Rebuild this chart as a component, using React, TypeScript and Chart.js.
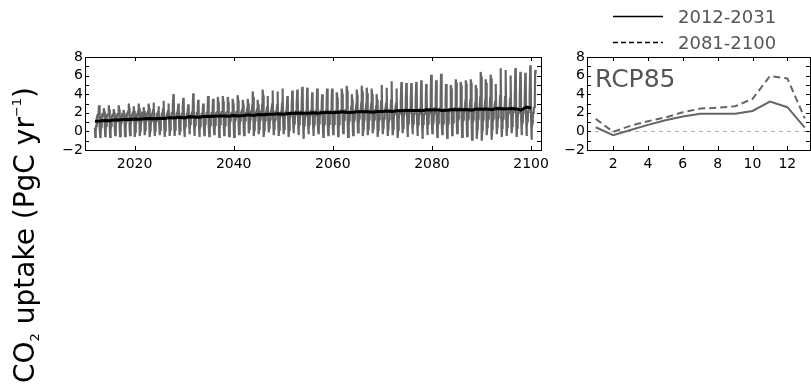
import React, { useEffect, useRef } from "react";
import { Chart, registerables } from "chart.js";

Chart.register(...registerables);

// ---------------- data ----------------
const FIRST_YEAR = 2012;
const LAST_YEAR = 2100;
const years: number[] = Array.from({ length: LAST_YEAR - FIRST_YEAR + 1 }, (_, i) => FIRST_YEAR + i);

// monthly CO2 uptake per year (PgC/yr), one array per calendar month, 2012..2100
const janVals = [
  0.4, 0.3, 0.5, 0.3, 0.5, 0.3, 0.6, 0.4, 0.5, 0.4,
  0.5, 0.6, 0.4, 0.6, 0.5, 0.8, 0.5, 0.7, 0.4, 0.8,
  0.6, 0.5, 0.7, 0.6, 0.7, 0.8, 0.7, 0.6, 0.8, 0.6,
  0.7, 0.9, 0.6, 0.9, 0.7, 0.9, 0.8, 0.9, 0.7, 0.9,
  0.9, 1.0, 0.9, 0.8, 0.9, 0.8, 0.9, 1.0, 0.8, 0.9,
  1.0, 0.8, 0.9, 1.0, 1.0, 0.9, 0.8, 1.0, 1.0, 1.1,
  0.9, 1.1, 1.0, 1.1, 1.0, 1.1, 1.0, 1.3, 1.1, 1.3,
  1.0, 1.0, 1.2, 1.1, 1.1, 1.2, 1.0, 1.3, 1.1, 1.3,
  1.0, 1.4, 1.3, 1.2, 1.4, 1.3, 1.3, 1.5, 1.4,
];
const febVals = [
  -0.6, -0.6, -0.5, -0.6, -0.4, -0.5, -0.5, -0.4, -0.6, -0.5,
  -0.4, -0.6, -0.5, -0.4, -0.6, -0.5, -0.5, -0.4, -0.6, -0.3,
  -0.5, -0.6, -0.4, -0.5, -0.3, -0.6, -0.4, -0.5, -0.6, -0.3,
  -0.4, -0.2, -0.5, -0.3, -0.6, -0.1, -0.4, -0.5, -0.3, -0.6,
  -0.2, -0.4, -0.8, -0.3, -0.5, -0.2, -0.6, -0.4, -0.3, -0.5,
  -0.2, -0.6, -0.4, -0.1, -0.5, -0.4, -0.2, -0.6, -0.3, -0.5,
  -0.4, -0.7, -0.2, -0.6, -0.3, -0.5, -0.8, -0.4, -0.2, -0.6,
  -0.3, -0.7, -0.4, -0.2, -0.6, -0.5, -0.9, -0.8, -1.0, -0.4,
  -0.9, -0.3, -0.6, -0.5, -0.2, -0.6, -0.4, -0.5, -0.9,
];
const marVals = [
  0.1, 0.0, 0.2, 0.1, 0.2, 0.1, 0.1, 0.2, 0.0, 0.1,
  0.2, 0.1, 0.1, 0.2, 0.1, 0.2, 0.2, 0.1, 0.1, 0.3,
  0.2, 0.1, 0.3, 0.2, 0.3, 0.2, 0.2, 0.3, 0.2, 0.3,
  0.3, 0.3, 0.2, 0.3, 0.2, 0.4, 0.3, 0.2, 0.3, 0.2,
  0.4, 0.3, 0.1, 0.3, 0.2, 0.4, 0.2, 0.3, 0.3, 0.3,
  0.4, 0.2, 0.3, 0.4, 0.3, 0.3, 0.4, 0.2, 0.4, 0.3,
  0.3, 0.2, 0.4, 0.3, 0.4, 0.3, 0.2, 0.4, 0.5, 0.3,
  0.4, 0.3, 0.5, 0.5, 0.3, 0.4, 0.2, 0.3, 0.2, 0.5,
  0.3, 0.5, 0.4, 0.5, 0.6, 0.4, 0.5, 0.5, 0.3,
];
const aprVals = [
  0.6, 0.5, 0.6, 0.6, 0.7, 0.5, 0.6, 0.7, 0.6, 0.6,
  0.7, 0.6, 0.6, 0.7, 0.6, 0.7, 0.7, 0.6, 0.6, 0.8,
  0.7, 0.6, 0.8, 0.7, 0.7, 0.8, 0.7, 0.7, 0.8, 0.7,
  0.8, 0.8, 0.7, 0.8, 0.7, 0.9, 0.8, 0.7, 0.8, 0.8,
  0.9, 0.8, 0.7, 0.8, 0.8, 0.9, 0.8, 0.8, 0.8, 0.8,
  0.9, 0.7, 0.8, 0.9, 0.8, 0.8, 0.9, 0.8, 0.9, 0.8,
  0.8, 0.8, 0.9, 0.9, 0.9, 0.8, 0.8, 0.9, 1.0, 0.9,
  0.9, 0.9, 1.0, 1.0, 0.9, 1.0, 0.8, 0.9, 0.8, 1.0,
  0.9, 1.0, 1.0, 1.0, 1.1, 1.0, 1.0, 1.1, 0.9,
];
const mayVals = [
  1.0, 1.0, 1.1, 1.1, 1.1, 1.0, 1.1, 1.2, 1.1, 1.1,
  1.2, 1.1, 1.1, 1.2, 1.1, 1.2, 1.2, 1.1, 1.1, 1.2,
  1.2, 1.1, 1.2, 1.2, 1.2, 1.2, 1.2, 1.2, 1.3, 1.2,
  1.2, 1.3, 1.2, 1.3, 1.2, 1.3, 1.3, 1.2, 1.3, 1.2,
  1.3, 1.3, 1.2, 1.3, 1.3, 1.3, 1.2, 1.3, 1.3, 1.3,
  1.3, 1.2, 1.3, 1.4, 1.3, 1.3, 1.3, 1.3, 1.4, 1.3,
  1.3, 1.3, 1.4, 1.3, 1.4, 1.3, 1.3, 1.4, 1.4, 1.4,
  1.4, 1.3, 1.4, 1.4, 1.3, 1.4, 1.3, 1.4, 1.3, 1.4,
  1.4, 1.5, 1.4, 1.4, 1.5, 1.4, 1.4, 1.5, 1.4,
];
const junVals = [
  1.4, 1.5, 1.5, 1.4, 1.5, 1.5, 1.6, 1.5, 1.5, 1.6,
  1.6, 1.5, 1.6, 1.6, 1.5, 1.7, 1.6, 1.6, 1.5, 1.7,
  1.6, 1.6, 1.7, 1.6, 1.7, 1.7, 1.7, 1.6, 1.7, 1.7,
  1.7, 1.8, 1.7, 1.8, 1.7, 1.8, 1.8, 1.7, 1.8, 1.7,
  1.8, 1.8, 1.7, 1.8, 1.8, 1.9, 1.8, 1.8, 1.8, 1.8,
  1.9, 1.8, 1.8, 1.9, 1.8, 1.8, 1.9, 1.8, 1.9, 1.8,
  1.9, 1.9, 1.9, 2.0, 1.9, 1.9, 1.9, 2.0, 2.0, 1.9,
  2.0, 1.9, 2.0, 2.0, 1.9, 2.0, 1.9, 2.0, 1.9, 2.0,
  2.0, 2.1, 2.0, 2.0, 2.1, 2.0, 2.0, 2.1, 2.0,
];
const julVals = [
  1.7, 1.8, 1.8, 1.7, 1.8, 1.8, 1.9, 1.8, 1.8, 1.9,
  1.9, 1.8, 1.9, 1.9, 1.8, 2.0, 1.9, 1.9, 1.8, 2.0,
  1.9, 1.9, 2.0, 1.9, 2.0, 2.0, 2.0, 1.9, 2.0, 2.0,
  2.0, 2.1, 2.0, 2.1, 2.0, 2.1, 2.1, 2.0, 2.1, 2.0,
  2.1, 2.1, 2.0, 2.1, 2.1, 2.2, 2.1, 2.1, 2.1, 2.1,
  2.2, 2.1, 2.1, 2.2, 2.2, 2.1, 2.2, 2.1, 2.2, 2.2,
  2.2, 2.2, 2.3, 2.3, 2.2, 2.3, 2.2, 2.3, 2.4, 2.3,
  2.3, 2.3, 2.4, 2.4, 2.3, 2.4, 2.3, 2.4, 2.3, 2.4,
  2.4, 2.5, 2.4, 2.4, 2.5, 2.4, 2.4, 2.5, 2.4,
];
const augVals = [
  1.8, 1.8, 1.8, 1.8, 1.8, 1.8, 1.9, 1.8, 1.9, 1.9,
  1.9, 1.9, 1.9, 1.9, 1.9, 2.0, 2.0, 1.9, 1.9, 2.0,
  2.0, 1.9, 2.0, 2.0, 2.0, 2.1, 2.0, 2.0, 2.1, 2.0,
  2.1, 2.1, 2.0, 2.1, 2.1, 2.2, 2.1, 2.1, 2.2, 2.1,
  2.2, 2.2, 2.1, 2.2, 2.2, 2.2, 2.2, 2.2, 2.2, 2.2,
  2.3, 2.2, 2.2, 2.3, 2.2, 2.2, 2.3, 2.2, 2.3, 2.3,
  2.3, 2.3, 2.4, 2.4, 2.3, 2.4, 2.3, 2.4, 2.5, 2.4,
  2.4, 2.4, 2.5, 2.5, 2.4, 2.5, 2.4, 2.5, 2.4, 2.5,
  2.5, 2.6, 2.5, 2.5, 2.6, 2.5, 2.5, 2.6, 2.5,
];
const sepVals = [
  1.8, 1.7, 1.8, 1.8, 1.9, 1.7, 1.9, 1.8, 1.9, 1.8,
  1.9, 1.9, 1.8, 2.0, 1.9, 2.1, 1.9, 2.0, 1.8, 2.1,
  2.0, 1.9, 2.1, 2.0, 2.1, 2.1, 2.1, 2.0, 2.1, 2.0,
  2.1, 2.2, 2.0, 2.2, 2.1, 2.2, 2.2, 2.2, 2.1, 2.2,
  2.2, 2.3, 2.2, 2.2, 2.2, 2.2, 2.3, 2.3, 2.2, 2.3,
  2.3, 2.2, 2.3, 2.3, 2.3, 2.3, 2.2, 2.4, 2.3, 2.4,
  2.3, 2.4, 2.4, 2.4, 2.4, 2.5, 2.4, 2.5, 2.5, 2.5,
  2.4, 2.4, 2.5, 2.5, 2.5, 2.5, 2.4, 2.6, 2.5, 2.6,
  2.5, 2.7, 2.6, 2.6, 2.7, 2.6, 2.6, 2.7, 2.6,
];
const octVals = [
  2.1, 1.9, 2.1, 1.9, 2.1, 1.9, 2.2, 2.1, 2.2, 2.0,
  2.2, 2.3, 2.1, 2.4, 2.2, 2.7, 2.2, 2.5, 2.1, 2.8,
  2.4, 2.2, 2.6, 2.5, 2.6, 2.6, 2.6, 2.5, 2.7, 2.4,
  2.5, 2.8, 2.4, 2.9, 2.6, 2.9, 2.8, 3.0, 2.6, 2.9,
  2.9, 3.0, 3.0, 2.8, 2.9, 2.7, 3.0, 3.0, 2.8, 3.0,
  3.1, 2.7, 2.9, 3.1, 3.0, 3.0, 2.7, 3.2, 3.0, 3.3,
  3.0, 3.3, 3.2, 3.2, 3.3, 3.3, 3.2, 3.6, 3.3, 3.6,
  3.1, 3.1, 3.4, 3.3, 3.3, 3.4, 3.1, 3.7, 3.4, 3.6,
  3.2, 3.8, 3.7, 3.5, 3.8, 3.6, 3.6, 3.9, 3.7,
];
const novVals = [
  2.8, 2.5, 2.8, 2.4, 2.8, 2.3, 3.0, 2.7, 3.0, 2.6,
  3.0, 3.1, 2.7, 3.3, 3.0, 4.0, 3.0, 3.6, 2.9, 4.1,
  3.4, 3.0, 3.8, 3.5, 3.7, 3.8, 3.7, 3.5, 3.9, 3.4,
  3.5, 4.3, 3.4, 4.5, 3.8, 4.4, 4.3, 4.6, 3.8, 4.4,
  4.5, 4.8, 4.7, 4.2, 4.6, 4.0, 4.6, 4.6, 4.2, 4.6,
  4.9, 4.0, 4.5, 4.9, 4.7, 4.6, 4.0, 5.0, 4.7, 5.4,
  4.6, 5.3, 5.2, 5.2, 5.3, 5.5, 5.1, 6.1, 5.5, 6.2,
  5.1, 5.0, 5.6, 5.3, 5.5, 5.6, 5.0, 6.4, 5.6, 6.1,
  5.1, 6.8, 6.6, 6.0, 6.8, 6.4, 6.3, 7.1, 6.6,
];
const decVals = [
  2.3, 2.1, 2.3, 2.0, 2.3, 1.9, 2.5, 2.2, 2.5, 2.2,
  2.5, 2.6, 2.2, 2.8, 2.5, 3.4, 2.5, 3.0, 2.4, 3.5,
  2.9, 2.5, 3.2, 3.0, 3.1, 3.2, 3.1, 3.0, 3.3, 2.9,
  3.0, 3.7, 2.9, 3.9, 3.2, 3.8, 3.7, 4.0, 3.2, 3.8,
  3.9, 4.2, 4.1, 3.6, 4.0, 3.4, 4.0, 4.0, 3.6, 4.0,
  4.3, 3.4, 3.9, 4.3, 4.1, 4.0, 3.4, 4.4, 4.1, 4.8,
  4.1, 4.7, 4.6, 4.7, 4.8, 5.0, 4.6, 5.6, 5.0, 5.7,
  4.6, 4.6, 5.2, 4.9, 5.1, 5.2, 4.6, 5.9, 5.2, 5.7,
  4.7, 6.3, 6.2, 5.6, 6.4, 6.0, 5.9, 6.6, 6.2,
];
const monthArrays = [janVals, febVals, marVals, aprVals, mayVals, junVals, julVals, augVals, sepVals, octVals, novVals, decVals];

// annual mean uptake (black line)
const annualMean = [
  1.10, 1.12, 1.18, 1.15, 1.25, 1.22, 1.30, 1.28, 1.32, 1.30,
  1.35, 1.38, 1.36, 1.40, 1.40, 1.48, 1.45, 1.52, 1.45, 1.58,
  1.55, 1.52, 1.60, 1.60, 1.62, 1.65, 1.65, 1.62, 1.70, 1.66,
  1.70, 1.78, 1.72, 1.82, 1.78, 1.85, 1.85, 1.90, 1.85, 1.92,
  1.95, 1.98, 1.95, 1.95, 2.00, 1.95, 2.02, 2.05, 2.00, 2.05,
  2.10, 2.02, 2.06, 2.12, 2.10, 2.10, 2.05, 2.15, 2.14, 2.20,
  2.15, 2.22, 2.22, 2.24, 2.24, 2.26, 2.22, 2.32, 2.30, 2.34,
  2.26, 2.28, 2.34, 2.32, 2.32, 2.36, 2.28, 2.42, 2.38, 2.42,
  2.32, 2.46, 2.44, 2.40, 2.46, 2.42, 2.28, 2.62, 2.52,
];

// seasonal cycle panel
const cycleMonths = [1, 2, 3, 4, 5, 6, 7, 8, 9, 10, 11, 12, 13];
const cycleEarly = [0.45, -0.4, 0.15, 0.7, 1.2, 1.6, 1.9, 1.9, 1.9, 2.2, 3.2, 2.6, 0.4];
const cycleLate = [1.35, -0.05, 0.6, 1.1, 1.5, 2.05, 2.45, 2.55, 2.7, 3.5, 5.95, 5.7, 1.4];

const legendLabels = ["2012-2031", "2081-2100"];
const panelLabel = "RCP85";
const leftXTicks = [2020, 2040, 2060, 2080, 2100];
const rightXTicks = [2, 4, 6, 8, 10, 12];
const yTickValues = [-2, -1, 0, 1, 2, 3, 4, 5, 6, 7, 8];
const yLabelParts = [
  { text: "CO", size: 28, shift: 0 },
  { text: "2", size: 13, shift: 5 },
  { text: " uptake (PgC yr", size: 28, shift: 0 },
  { text: "\u22121", size: 13, shift: -13 },
  { text: ")", size: 28, shift: 0 },
];

const FONT = "'DejaVu Sans', 'Noto Sans', sans-serif";
const GRAY = "#666666";

function yTickLabel(v: number): string {
  if (Math.round(v) % 2 !== 0) return "";
  return v < 0 ? "\u2212" + Math.abs(v) : String(v);
}

function framePlugin(xTicks: number[]) {
  return {
    id: "frame",
    afterDraw(chart: any) {
      const { ctx, chartArea } = chart;
      const { left, right, top, bottom } = chartArea;
      const xs = chart.scales.x;
      const ys = chart.scales.y;
      ctx.save();
      ctx.strokeStyle = "#000";
      ctx.lineWidth = 1;
      ctx.setLineDash([]);
      ctx.strokeRect(Math.round(left) + 0.5, Math.round(top) + 0.5, Math.round(right - left), Math.round(bottom - top));
      ctx.beginPath();
      const tl = 4;
      xTicks.forEach((v) => {
        const px = Math.round(xs.getPixelForValue(v)) + 0.5;
        ctx.moveTo(px, bottom);
        ctx.lineTo(px, bottom - tl);
        ctx.moveTo(px, top);
        ctx.lineTo(px, top + tl);
      });
      yTickValues.forEach((v) => {
        const py = Math.round(ys.getPixelForValue(v)) + 0.5;
        ctx.moveTo(left, py);
        ctx.lineTo(left + tl, py);
        ctx.moveTo(right, py);
        ctx.lineTo(right - tl, py);
      });
      ctx.stroke();
      ctx.restore();
    },
  };
}

const yLabelPlugin = {
  id: "ylabel",
  afterDraw(chart: any) {
    const ctx = chart.ctx;
    ctx.save();
    ctx.translate(34, 235);
    ctx.rotate(-Math.PI / 2);
    ctx.fillStyle = "#000";
    ctx.textBaseline = "alphabetic";
    ctx.textAlign = "left";
    let total = 0;
    const widths = yLabelParts.map((p) => {
      ctx.font = `${p.size}px ${FONT}`;
      const w = ctx.measureText(p.text).width;
      total += w;
      return w;
    });
    let x = -total / 2;
    yLabelParts.forEach((p, i) => {
      ctx.font = `${p.size}px ${FONT}`;
      ctx.fillText(p.text, x, p.shift);
      x += widths[i];
    });
    ctx.restore();
  },
};

const zeroLinePlugin = {
  id: "zeroline",
  beforeDatasetsDraw(chart: any) {
    const { ctx, chartArea } = chart;
    const y0 = Math.round(chart.scales.y.getPixelForValue(0)) + 0.5;
    ctx.save();
    ctx.strokeStyle = "#b0b0b0";
    ctx.lineWidth = 1;
    ctx.setLineDash([4, 4]);
    ctx.beginPath();
    ctx.moveTo(chartArea.left, y0);
    ctx.lineTo(chartArea.right, y0);
    ctx.stroke();
    ctx.restore();
  },
};

const legendPlugin = {
  id: "customlegend",
  afterDraw(chart: any) {
    const ctx = chart.ctx;
    ctx.save();
    const rows = [
      { y: 16, dash: [] as number[], label: legendLabels[0] },
      { y: 42, dash: [5, 3], label: legendLabels[1] },
    ];
    rows.forEach((r) => {
      ctx.strokeStyle = "#000";
      ctx.lineWidth = 1.5;
      ctx.setLineDash(r.dash);
      ctx.beginPath();
      ctx.moveTo(68, r.y + 0.5);
      ctx.lineTo(118, r.y + 0.5);
      ctx.stroke();
      ctx.setLineDash([]);
      ctx.fillStyle = "#555555";
      ctx.font = `18px ${FONT}`;
      ctx.textBaseline = "alphabetic";
      ctx.textAlign = "left";
      ctx.fillText(r.label, 133, r.y + 7);
    });
    const { chartArea } = chart;
    ctx.fillStyle = "#555555";
    ctx.font = `25px ${FONT}`;
    ctx.fillText(panelLabel, chartArea.left + 8, chartArea.top + 29.5);
    ctx.restore();
  },
};

export default function App() {
  const leftRef = useRef<HTMLCanvasElement>(null);
  const rightRef = useRef<HTMLCanvasElement>(null);

  useEffect(() => {
    const tickFont = { family: FONT, size: 14 };

    const monthly: { x: number; y: number }[] = [];
    years.forEach((yr, i) => {
      monthArrays.forEach((arr, m) => {
        monthly.push({ x: yr + m / 12, y: arr[i] });
      });
    });
    const meanLine = years.map((yr, i) => ({ x: yr, y: annualMean[i] }));

    const makeScales = (xMin: number, xMax: number, xTicks: number[], yWidth: number) => ({
      x: {
        type: "linear",
        min: xMin,
        max: xMax,
        afterBuildTicks: (s: any) => {
          s.ticks = xTicks.map((v) => ({ value: v }));
        },
        afterFit: (s: any) => {
          s.height = 237;
        },
        grid: { display: false, drawTicks: false },
        border: { display: false },
        ticks: {
          autoSkip: false,
          maxRotation: 0,
          padding: 6,
          color: "#000",
          font: tickFont,
          callback: (v: any) => String(v),
        },
      },
      y: {
        type: "linear",
        min: -2,
        max: 8,
        afterBuildTicks: (s: any) => {
          s.ticks = yTickValues.map((v) => ({ value: v }));
        },
        afterFit: (s: any) => {
          s.width = yWidth;
        },
        grid: { display: false, drawTicks: false },
        border: { display: false },
        ticks: {
          autoSkip: false,
          padding: 2,
          color: "#000",
          font: tickFont,
          callback: (v: any) => yTickLabel(Number(v)),
        },
      },
    });

    const left = new Chart(leftRef.current as HTMLCanvasElement, {
      type: "line",
      data: {
        datasets: [
          {
            data: monthly,
            borderColor: GRAY,
            borderWidth: 2.2,
            pointRadius: 0,
            tension: 0,
            order: 2,
          },
          {
            data: meanLine,
            borderColor: "#000000",
            borderWidth: 3,
            pointRadius: 0,
            tension: 0,
            order: 1,
          },
        ],
      } as any,
      options: {
        animation: false,
        responsive: false,
        devicePixelRatio: 1,
        parsing: false,
        layout: { padding: { left: 0, right: 19, top: 57, bottom: 0 } },
        plugins: { legend: { display: false }, tooltip: { enabled: false } },
        scales: makeScales(2010, 2102, leftXTicks, 85) as any,
      } as any,
      plugins: [framePlugin(leftXTicks), yLabelPlugin],
    });

    const right = new Chart(rightRef.current as HTMLCanvasElement, {
      type: "line",
      data: {
        datasets: [
          {
            data: cycleMonths.map((m, i) => ({ x: m, y: cycleEarly[i] })),
            borderColor: GRAY,
            borderWidth: 2,
            pointRadius: 0,
            tension: 0,
          },
          {
            data: cycleMonths.map((m, i) => ({ x: m, y: cycleLate[i] })),
            borderColor: GRAY,
            borderWidth: 2,
            borderDash: [7, 4],
            pointRadius: 0,
            tension: 0,
          },
        ],
      } as any,
      options: {
        animation: false,
        responsive: false,
        devicePixelRatio: 1,
        parsing: false,
        layout: { padding: { left: 0, right: 1, top: 57, bottom: 0 } },
        plugins: { legend: { display: false }, tooltip: { enabled: false } },
        scales: makeScales(0.5, 13.3, rightXTicks, 42) as any,
      } as any,
      plugins: [zeroLinePlugin, framePlugin(rightXTicks), legendPlugin],
    });

    return () => {
      left.destroy();
      right.destroy();
    };
  }, []);

  return (
    <div style={{ position: "fixed", left: 0, top: 0, width: 811, height: 387, background: "#fff" }}>
      <canvas ref={leftRef} width={560} height={387} style={{ position: "absolute", left: 0, top: 0 }} />
      <canvas ref={rightRef} width={266} height={387} style={{ position: "absolute", left: 545, top: 0 }} />
    </div>
  );
}
